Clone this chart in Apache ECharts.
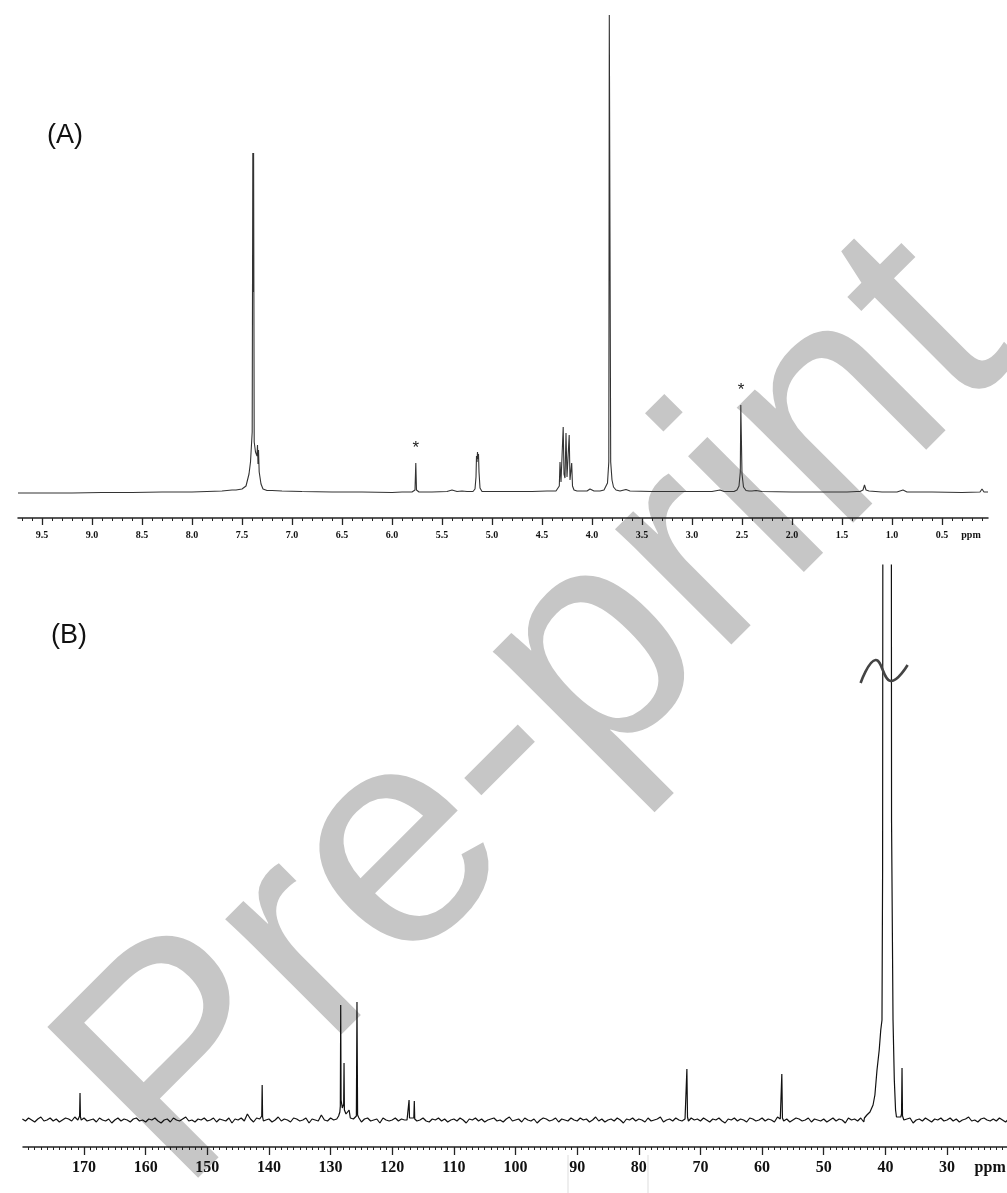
<!DOCTYPE html>
<html><head><meta charset="utf-8">
<script src="https://cdn.jsdelivr.net/npm/echarts@6/dist/echarts.min.js"></script>
<style>html,body{margin:0;padding:0;background:#fff}#c{width:1007px;height:1193px}</style>
</head><body><div id="c"></div>
<script>
// ---------- (A) 1H NMR ----------
const H1_TICKS = [9.5,9.0,8.5,8.0,7.5,7.0,6.5,6.0,5.5,5.0,4.5,4.0,3.5,3.0,2.5,2.0,1.5,1.0,0.5];
const H1_LABEL_VALUES = [9.5,9.0,8.5,8.0,7.5,7.0,6.5,6.0,5.5,5.0,4.5,4.0,3.5,3.0,2.5,2.0,1.5,1.0,0.5,0.21];
const H1_LABELS = ['9.5','9.0','8.5','8.0','7.5','7.0','6.5','6.0','5.5','5.0','4.5','4.0','3.5','3.0','2.5','2.0','1.5','1.0','0.5','ppm'];
const H1_BASE = [[9.74,-1],[9.5,-1],[9.2,-1],[8.9,-0.5],[8.6,-0.5],[8.3,0],[8.0,0],[7.85,0.5],[7.7,1],[7.6,2],[7.2,1.5],[7.1,1],[6.9,0.5],[6.6,0],[6.3,0],[6.0,-0.5],[5.9,0],[5.6,0],[5.45,0.5],[5.4,2],[5.35,0.5],[5.3,1],[5.25,0.5],[5.0,0.5],[4.8,0.5],[4.6,0.5],[4.45,1],[4.1,1],[4.05,1],[4.02,3],[3.98,1],[3.7,1],[3.66,2.5],[3.62,1],[3.4,0.5],[3.1,0.5],[2.8,0.5],[2.72,2],[2.68,0.5],[2.4,1],[2.36,1.5],[2.3,0.5],[2.0,0],[1.7,0],[1.45,0],[1.35,0.5],[1.22,1],[1.1,0],[0.95,0],[0.89,2],[0.85,0],[0.6,0],[0.3,-0.5],[0.12,0],[0.1,3],[0.08,0],[0.04,0]];
const H1_AROM = [[7.56,2],[7.5,3],[7.46,6],[7.43,18],[7.415,30],[7.398,60],[7.392,339],[7.388,200],[7.384,339],[7.378,50],[7.365,40],[7.35,36],[7.345,47],[7.34,28],[7.335,42],[7.328,20],[7.31,8],[7.29,3],[7.25,1.5]];
const H1_576 = [[5.8,0],[5.77,2],[5.762,29],[5.755,2],[5.73,0]];
const H1_514 = [[5.19,0.5],[5.17,3],[5.16,15],[5.155,36],[5.15,30],[5.145,40],[5.14,33],[5.135,38],[5.13,20],[5.12,4],[5.10,0.5]];
const H1_42 = [[4.36,1],[4.34,2],[4.327,6],[4.32,30],[4.31,10],[4.297,12],[4.288,65],[4.28,18],[4.27,14],[4.26,59],[4.25,15],[4.238,16],[4.228,57],[4.22,12],[4.21,10],[4.203,29],[4.195,6],[4.18,2],[4.15,1]];
const H1_382 = [[3.92,1],[3.88,2],[3.86,4],[3.845,9],[3.832,30],[3.827,477],[3.821,477],[3.813,30],[3.80,12],[3.785,5],[3.76,2],[3.72,1]];
const H1_251 = [[2.58,0.5],[2.55,2],[2.53,6],[2.517,20],[2.512,87],[2.507,87],[2.50,18],[2.485,5],[2.46,1.5],[2.43,1]];
const H1_127 = [[1.32,0.5],[1.29,2],[1.275,7],[1.26,2],[1.23,1]];
const H1_STARS = [[5.762,29],[2.51,87]];

// ---------- (B) 13C NMR ----------
const C13_TICKS = [170,160,150,140,130,120,110,100,90,80,70,60,50,40,30];
const C13_LABEL_VALUES = [170,160,150,140,130,120,110,100,90,80,70,60,50,40,30,23];
const C13_LABELS = ['170','160','150','140','130','120','110','100','90','80','70','60','50','40','30','ppm'];
// baseline noise, one value every 0.5 ppm from 180 ppm downwards
const C13_NOISE = [
 1,-1,2,0,-2,1,3,-1,0,2,-1,1,-2,0,2,1,-1,3,0,-2,
 2,-1,0,1,-2,2,0,-1,1,-3,0,2,-1,1,0,-2,1,2,-1,0,
 -2,1,0,2,-1,-3,0,1,-2,2,0,-1,1,3,-1,0,-2,1,0,2,
 -1,0,2,-2,1,0,-1,2,-3,1,0,2,-1,6,1,-2,2,1,-1,0,
 1,-2,0,3,-1,1,0,-2,2,1,-1,0,2,-3,1,0,-1,5,0,-1,
 2,0,-1,1,-2,0,3,-1,1,0,-2,1,2,-1,0,1,-3,2,0,-1,
 0,2,-1,1,0,-2,1,3,-1,0,2,-1,-2,1,0,2,-1,1,-2,0,
 1,-1,2,0,-3,1,0,2,-1,1,-2,0,1,2,-1,0,-2,1,3,-1,
 0,1,-2,2,0,-1,1,-3,0,2,1,-1,0,2,-2,1,0,-1,2,0,
 -1,2,0,1,-2,0,3,-1,1,-2,0,1,-1,2,0,-3,1,0,2,-1,
 1,0,-2,2,-1,0,1,3,-2,0,1,-1,2,0,-1,1,-2,2,0,1,
 -1,2,0,-2,1,0,2,-1,-3,1,0,2,-1,1,0,-2,2,1,-1,0,
 2,-1,1,0,-2,3,0,-1,1,-2,0,2,1,-1,0,2,-2,1,0,-1,
 1,-2,0,2,-1,1,0,-3,2,0,1,-1,2,-2,0,1,3,-1,0,2,
 -1,0,1,-2,2,0,-1,1,2,-3,0,1,-1,2,0,-2,1,0,2,-1,
 0,2,-1,1,-2,0,1,3,-1,0,-2,1,2,0,-1,1,-1,2,0,-2,1];
const C13_170 = [[170.85,1],[170.72,4],[170.65,27],[170.58,3],[170.45,0]];
const C13_141 = [[141.3,0],[141.17,4],[141.1,35],[141.03,3],[140.9,-1]];
const C13_128 = [[129.0,1],[128.7,4],[128.5,8],[128.42,14],[128.36,115],[128.30,20],[128.1,12],[127.88,16],[127.82,57],[127.76,10],[127.5,6],[127.3,4],[127.0,10],[126.8,2],[126.3,1],[125.82,4],[125.72,118],[125.62,5],[125.4,2],[125.1,0]];
const C13_117 = [[117.6,0],[117.35,2],[117.27,20],[117.2,2],[116.9,1],[116.5,2],[116.42,19],[116.35,1],[116.1,0]];
const C13_72 = [[72.45,0],[72.3,3],[72.2,51],[72.1,3],[71.95,-1]];
const C13_57 = [[57.05,1],[56.9,3],[56.8,46],[56.7,2],[56.55,0]];
const C13_DMSO = [[43.4,2],[43.0,5],[42.5,8],[42.0,15],[41.7,25],[41.36,50],[41.0,70],[40.75,90],[40.55,100],[40.45,250],[40.40,700],[40.37,2500],[39.8,3000],[39.22,2500],[39.0,300],[38.76,100],[38.55,40],[38.35,10],[38.2,3],[37.9,1],[37.5,3],[37.38,6],[37.3,52],[37.22,4],[37.0,0],[36.8,1]];

function mergeSpectrum(base, groups) {
  let pts = base.filter(p => !groups.some(g => p[0] <= g[0][0] && p[0] >= g[g.length - 1][0]));
  groups.forEach(g => { pts = pts.concat(g); });
  pts.sort((a, b) => b[0] - a[0]);
  return pts;
}
const h1Data = mergeSpectrum(H1_BASE, [H1_AROM, H1_576, H1_514, H1_42, H1_382, H1_251, H1_127]);
const c13Base = C13_NOISE.map((v, i) => [180 - 0.5 * i, v]);
const c13Data = mergeSpectrum(c13Base, [C13_170, C13_141, C13_128, C13_117, C13_72, C13_57, C13_DMSO]);

function minorList(a, b, step, skip) {
  const out = [];
  for (let v = a; v <= b + 1e-9; v += step) {
    const r = Math.round(v * 100) / 100;
    if (Math.abs(r / skip - Math.round(r / skip)) > 1e-6) out.push(r);
  }
  return out;
}
const H1_MINOR = minorList(0.1, 9.7, 0.1, 0.5);
const C13_MINOR = minorList(21, 179, 1, 10);

function labelFmt(values, labels) {
  return function (v) {
    for (let i = 0; i < values.length; i++) if (Math.abs(values[i] - v) < 1e-6) return labels[i];
    return '';
  };
}
const AX = '#222';
function mainAxis(grid, min, max, ticks, lv, lbl, fs, margin, tlen) {
  return {
    gridIndex: grid, type: 'value', min: min, max: max, inverse: true, position: 'bottom',
    axisLine: { show: true, onZero: false, lineStyle: { color: AX, width: 1.5 } },
    axisTick: { show: true, customValues: ticks, length: tlen, lineStyle: { color: AX, width: 1.3 } },
    axisLabel: { show: true, customValues: lv, formatter: labelFmt(lv, lbl), margin: margin,
      fontFamily: 'Liberation Serif', fontWeight: 'bold', fontSize: fs, color: '#111' },
    splitLine: { show: false }, minorTick: { show: false }
  };
}
function minorAxis(grid, min, max, ticks) {
  return {
    gridIndex: grid, type: 'value', min: min, max: max, inverse: true, position: 'bottom',
    axisLine: { show: false, onZero: false },
    axisTick: { show: true, customValues: ticks, length: 3, lineStyle: { color: AX, width: 1 } },
    axisLabel: { show: false }, splitLine: { show: false }
  };
}

const chart = echarts.init(document.getElementById('c'));
chart.setOption({
  animation: false,
  backgroundColor: '#ffffff',
  grid: [
    { left: 18, width: 970, top: 12, height: 506, containLabel: false, outerBoundsMode: 'none' },
    { left: 23, width: 984, top: 565, height: 582, containLabel: false, outerBoundsMode: 'none' }
  ],
  xAxis: [
    mainAxis(0, 0.04, 9.74, H1_TICKS, H1_LABEL_VALUES, H1_LABELS, 10, 12, 7),
    minorAxis(0, 0.04, 9.74, H1_MINOR),
    mainAxis(1, 20.27, 179.9, C13_TICKS, C13_LABEL_VALUES, C13_LABELS, 16, 13, 8),
    minorAxis(1, 20.27, 179.9, C13_MINOR)
  ],
  yAxis: [
    { gridIndex: 0, type: 'value', min: -26, max: 480, show: false, splitLine: { show: false } },
    { gridIndex: 1, type: 'value', min: -27, max: 555, show: false, splitLine: { show: false } }
  ],
  series: [
    { type: 'line', xAxisIndex: 0, yAxisIndex: 0, data: h1Data, symbol: 'none', silent: true,
      lineStyle: { color: '#333', width: 1.1 }, z: 3,
      markPoint: { symbol: 'circle', symbolSize: 1, itemStyle: { color: 'rgba(0,0,0,0)' }, silent: true,
        label: { show: true, formatter: '*', position: 'top', distance: 6, fontSize: 17,
          fontFamily: 'Liberation Sans', color: '#222' },
        data: H1_STARS.map(p => ({ coord: p })) } },
    { type: 'line', xAxisIndex: 2, yAxisIndex: 1, data: c13Data, symbol: 'none', silent: true,
      lineStyle: { color: '#111', width: 1.2 }, z: 3 }
  ]
});

// annotations (panel letters, watermark, axis break mark)
const brk = chart.convertToPixel({ xAxisIndex: 2, yAxisIndex: 1 }, [39.8, 0]);
const bx = brk[0], by = 672;
chart.setOption({
  graphic: [
    { type: 'text', x: 540, y: 715, rotation: Math.PI / 4, z: -5,
      style: { text: 'Pre-print', font: '310px "Liberation Sans"', fill: '#c6c6c6', align: 'center', verticalAlign: 'middle' } },
    { type: 'text', x: 47, y: 136, z: 10,
      style: { text: '(A)', font: '27px "Liberation Sans"', fill: '#111', verticalAlign: 'middle' } },
    { type: 'text', x: 51, y: 636, z: 10,
      style: { text: '(B)', font: '27px "Liberation Sans"', fill: '#111', verticalAlign: 'middle' } },
    { type: 'polyline', z: 10,
      shape: { points: [[bx - 26, by + 11], [bx - 11, by - 12], [bx + 4, by + 9], [bx + 21, by - 7]], smooth: 0.45 },
      style: { stroke: '#444', lineWidth: 2.6, fill: null } },
    { type: 'line', z: -4, shape: { x1: 568, y1: 1155, x2: 568, y2: 1193 }, style: { stroke: '#dddddd', lineWidth: 1 } },
    { type: 'line', z: -4, shape: { x1: 648, y1: 1155, x2: 648, y2: 1193 }, style: { stroke: '#dddddd', lineWidth: 1 } }
  ]
});
</script>
</body></html>
